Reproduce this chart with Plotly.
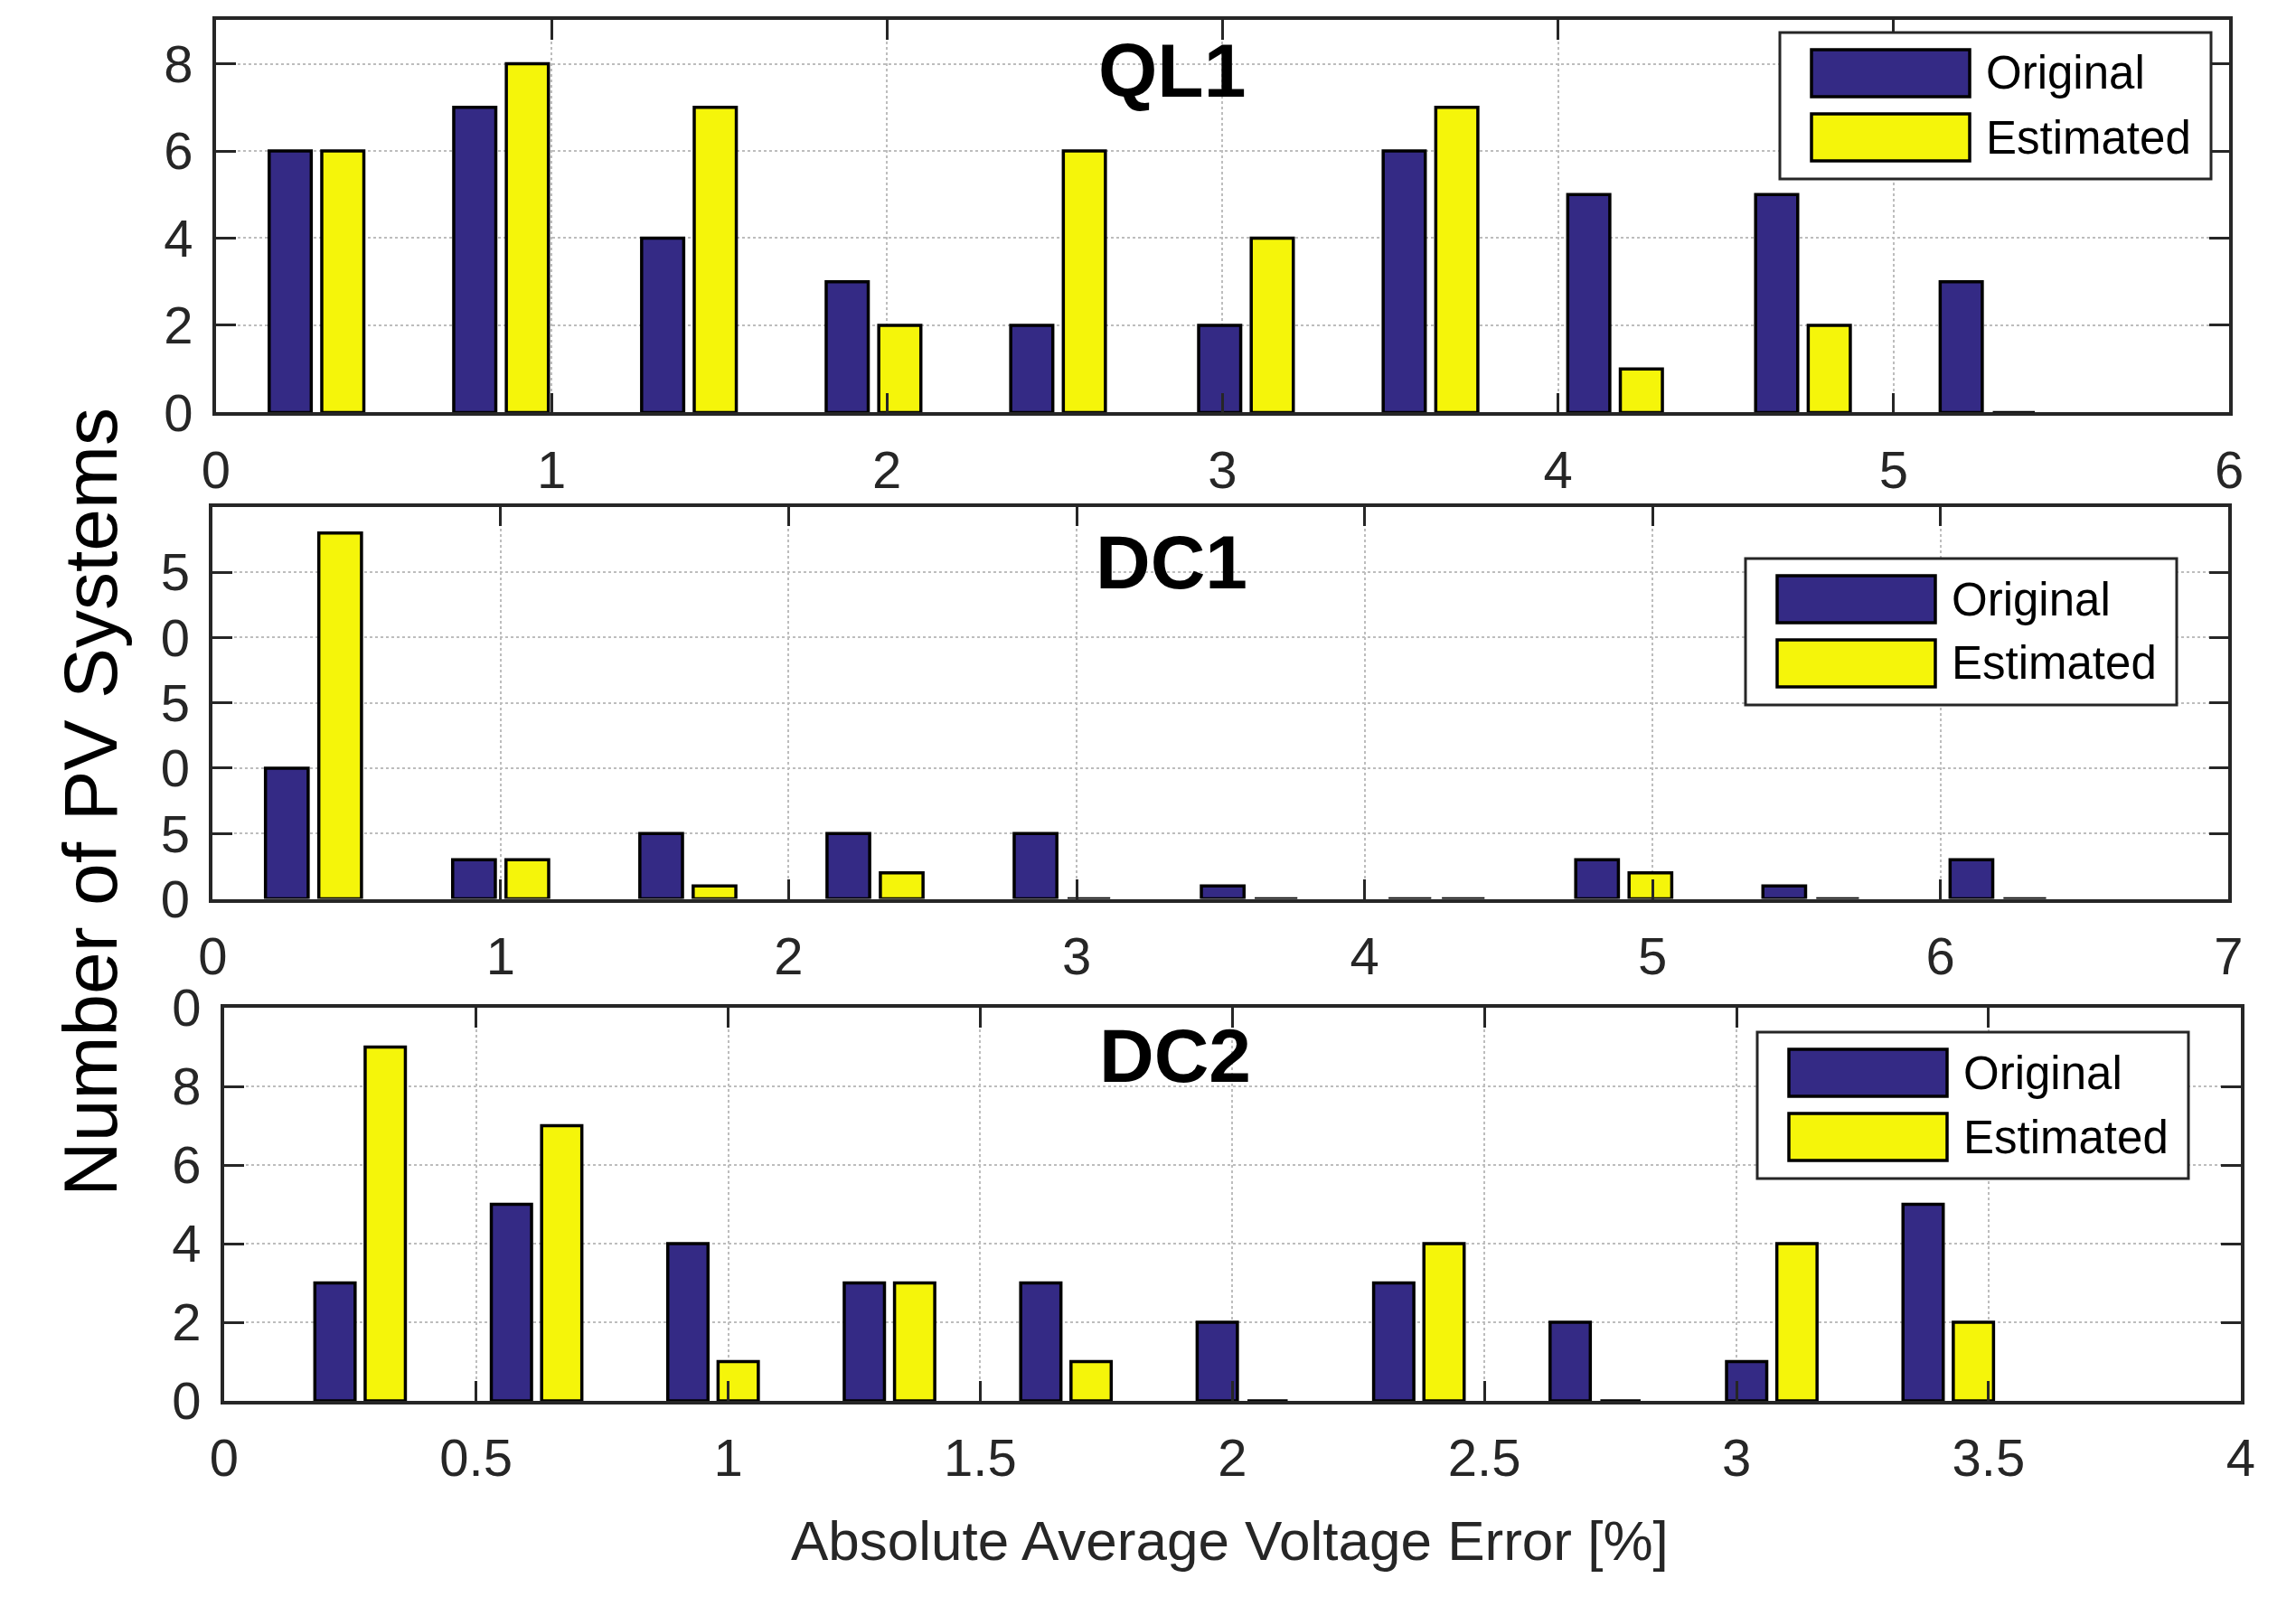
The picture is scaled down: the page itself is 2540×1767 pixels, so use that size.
import plotly.graph_objects as go

# ---------------- data ----------------
ql1_x = [0.30, 0.85, 1.41, 1.96, 2.51, 3.07, 3.62, 4.17, 4.73, 5.28]
ql1_original = [6, 7, 4, 3, 2, 2, 6, 5, 5, 3]
ql1_estimated = [6, 8, 7, 2, 6, 4, 7, 1, 2, 0]

dc1_x = [0.35, 1.00, 1.65, 2.30, 2.95, 3.60, 4.25, 4.90, 5.55, 6.20]
dc1_original = [10, 3, 5, 5, 5, 1, 0, 3, 1, 3]
dc1_estimated = [28, 3, 1, 2, 0, 0, 0, 2, 0, 0]

dc2_x = [0.27, 0.62, 0.97, 1.32, 1.67, 2.02, 2.37, 2.72, 3.07, 3.42]
dc2_original = [3, 5, 4, 3, 3, 2, 3, 2, 1, 5]
dc2_estimated = [9, 7, 1, 3, 1, 0, 4, 0, 4, 2]

ql1_xticks = [0, 1, 2, 3, 4, 5, 6]
ql1_yticks = [0, 2, 4, 6, 8]
ql1_ytext = ["0", "2", "4", "6", "8"]

dc1_xticks = [0, 1, 2, 3, 4, 5, 6, 7]
dc1_yticks = [0, 5, 10, 15, 20, 25]
dc1_ytext = ["0", "5", "0", "5", "0", "5"]   # leading digits clipped in the original figure

dc2_xticks = [0, 0.5, 1, 1.5, 2, 2.5, 3, 3.5, 4]
dc2_yticks = [0, 2, 4, 6, 8, 10]
dc2_ytext = ["0", "2", "4", "6", "8", "0"]   # leading digit clipped in the original figure

series_names = ["Original", "Estimated"]
titles = ["QL1", "DC1", "DC2"]
x_label = "Absolute Average Voltage Error [%]"
y_label = "Number of PV Systems"

# ---------------- styling / layout ----------------
W, H = 2540, 1767
NAVY = "#342A85"
YELLOW = "#F5F50A"
AXC = "#262626"
FONT = "Arial, 'Liberation Sans', Helvetica, sans-serif"

panels = [
    dict(x=ql1_x, o=ql1_original, e=ql1_estimated, xr=[0, 6], xt=ql1_xticks,
         yr=[0, 9], yt=ql1_yticks, ytx=ql1_ytext,
         box=(238.8, 22.3, 2466.0, 456.4), leg=(1969, 36), title=(1296, 78)),
    dict(x=dc1_x, o=dc1_original, e=dc1_estimated, xr=[0, 7], xt=dc1_xticks,
         yr=[0, 30], yt=dc1_yticks, ytx=dc1_ytext,
         box=(235.3, 560.7, 2465.3, 994.6), leg=(1931, 618), title=(1296, 622)),
    dict(x=dc2_x, o=dc2_original, e=dc2_estimated, xr=[0, 4], xt=dc2_xticks,
         yr=[0, 10], yt=dc2_yticks, ytx=dc2_ytext,
         box=(247.8, 1115.0, 2478.8, 1550.0), leg=(1944, 1142), title=(1300, 1168)),
]

fig = go.Figure()
layout = dict(
    template="none",
    width=W, height=H, autosize=False,
    margin=dict(l=0, r=0, t=0, b=0, pad=0, autoexpand=False),
    paper_bgcolor="white", plot_bgcolor="white",
    barmode="group", bargap=0.43, bargroupgap=0.2,
    showlegend=False,
    font=dict(family=FONT, color=AXC),
)

shapes = []
annotations = []

def px(x):
    return x / W

def py(y):
    return 1 - y / H

for i, p in enumerate(panels):
    k = "" if i == 0 else str(i + 1)
    xa, ya = "x" + k, "y" + k
    for name, vals, col in [(series_names[0], p["o"], NAVY), (series_names[1], p["e"], YELLOW)]:
        fig.add_trace(go.Bar(
            x=p["x"], y=vals, name=name, xaxis=xa, yaxis=ya,
            marker=dict(color=col, line=dict(color="black", width=3.5)),
        ))
    l, t, r, b = p["box"]
    common = dict(
        showline=True, linecolor=AXC, linewidth=3.5, mirror="ticks",
        ticks="inside", ticklen=22, tickwidth=3, tickcolor=AXC,
        showgrid=True, gridcolor="#bdbdbd", gridwidth=2, griddash="dot",
        zeroline=False, tickfont=dict(family=FONT, size=58, color=AXC),
        fixedrange=True, automargin=False,
    )
    layout["xaxis" + k] = dict(
        common, domain=[px(l), px(r)], range=p["xr"], anchor=ya,
        tickmode="array", tickvals=p["xt"], ticklabelstandoff=10,
    )
    layout["yaxis" + k] = dict(
        common, domain=[py(b), py(t)], range=p["yr"], anchor=xa,
        tickmode="array", tickvals=p["yt"], ticktext=p["ytx"], ticklabelstandoff=10,
    )
    # title
    tx, ty = p["title"]
    annotations.append(dict(
        text="<b>%s</b>" % titles[i], x=px(tx), y=py(ty), xref="paper", yref="paper",
        xanchor="center", yanchor="middle", showarrow=False,
        font=dict(family=FONT, size=84, color="black"),
    ))
    # legend (MATLAB style with wide swatches)
    lx, ly = p["leg"]
    shapes.append(dict(type="rect", xref="paper", yref="paper",
                       x0=px(lx), x1=px(lx + 477), y0=py(ly), y1=py(ly + 162),
                       fillcolor="white", line=dict(color=AXC, width=3), layer="above"))
    for j, (name, col) in enumerate([(series_names[0], NAVY), (series_names[1], YELLOW)]):
        sy0 = ly + 19 + j * 71
        shapes.append(dict(type="rect", xref="paper", yref="paper",
                           x0=px(lx + 35), x1=px(lx + 210), y0=py(sy0), y1=py(sy0 + 52),
                           fillcolor=col, line=dict(color="black", width=3.5), layer="above"))
        annotations.append(dict(
            text=name, x=px(lx + 226), y=py(sy0 + 26), xref="paper", yref="paper",
            xanchor="left", yanchor="middle", showarrow=False,
            font=dict(family=FONT, size=51, color="black"),
        ))

# axis labels
annotations.append(dict(
    text=x_label, x=px(1360), y=py(1704), xref="paper", yref="paper",
    xanchor="center", yanchor="middle", showarrow=False,
    font=dict(family=FONT, size=62, color=AXC),
))
annotations.append(dict(
    text=y_label, x=px(100), y=py(888), xref="paper", yref="paper",
    xanchor="center", yanchor="middle", showarrow=False, textangle=-90,
    font=dict(family=FONT, size=84, color="black"),
))

layout["shapes"] = shapes
layout["annotations"] = annotations
fig.update_layout(**layout)

fig.write_html("out.html", config={"displayModeBar": False},
               post_script="document.body.style.margin='0';document.body.style.overflow='hidden';")
